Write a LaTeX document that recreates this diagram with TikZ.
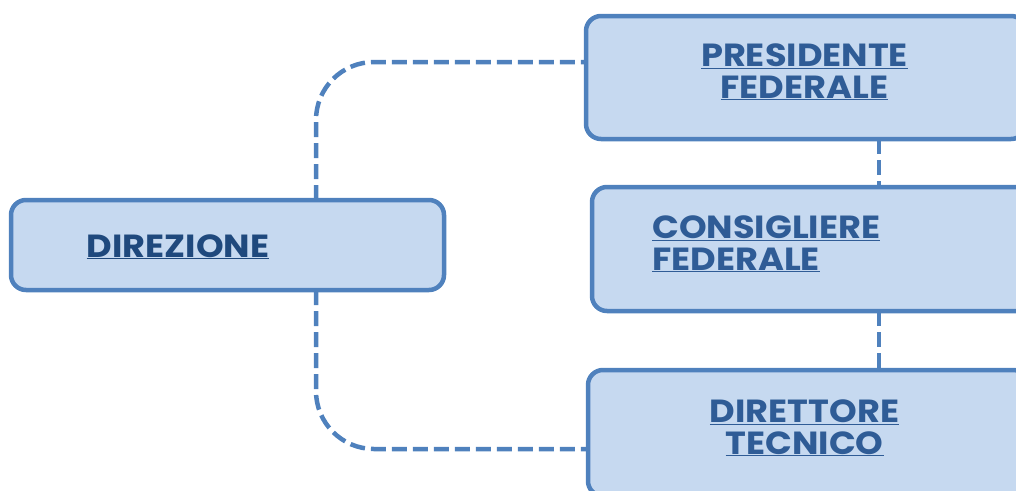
\documentclass[tikz,border=0pt]{standalone}
\usepackage{fontspec}
\setmainfont{Poppins}[FakeStretch=1.1]
\definecolor{bordc}{HTML}{4F81BD}
\definecolor{fillc}{HTML}{C6D9F0}
\definecolor{txtc}{HTML}{2F5C96}
\definecolor{txtd}{HTML}{1F497D}
\newcommand{\ul}[1]{\underline{#1}}
\begin{document}
\begin{tikzpicture}[x=1pt,y=-1pt,
  box/.style={draw=bordc, fill=fillc, line width=4.5pt, rounded corners=15pt, inner sep=0pt, outer sep=0pt},
  conn/.style={draw=bordc, line width=4.5pt, dash pattern=on 15pt off 6pt},
  lbl/.style={text=txtc, font=\bfseries\fontsize{32}{31.5}\selectfont, inner sep=0pt, align=center}]
\useasboundingbox (0,0) rectangle (1016,490);
\node[box, minimum width=433pt, minimum height=90pt] (dir) at (227.5,245) {};
\node[box, minimum width=440pt, minimum height=123pt] (pres) at (806,77.5) {};
\node[box, minimum width=440pt, minimum height=124pt] (cons) at (812,249) {};
\node[box, minimum width=440pt, minimum height=126pt] (dirt) at (808,433) {};
\coordinate (tj) at (316,62);
\coordinate (bj) at (316,449);
\coordinate (vx) at (879,0);
\draw[conn, rounded corners=58pt] (dir.north -| tj) |- (pres.west |- tj);
\draw[conn, rounded corners=58pt] (dir.south -| bj) |- (dirt.west |- bj);
\draw[conn] (pres.south -| vx) -- (cons.north -| vx);
\draw[conn] (cons.south -| vx) -- (dirt.north -| vx);
\node[lbl, text=txtd, anchor=base] (tdir) at (178,257) {\ul{DIREZIONE}};
\node[lbl, anchor=base] (tpres) at (804.5,98) {\ul{PRESIDENTE}\\\ul{FEDERALE}};
\node[lbl, anchor=base west, align=left] (tcons) at (652,270) {\ul{CONSIGLIERE}\\\ul{FEDERALE}};
\node[lbl, anchor=base] (tdirt) at (804.5,454) {\ul{DIRETTORE}\\\ul{TECNICO}};
\end{tikzpicture}
\end{document}
